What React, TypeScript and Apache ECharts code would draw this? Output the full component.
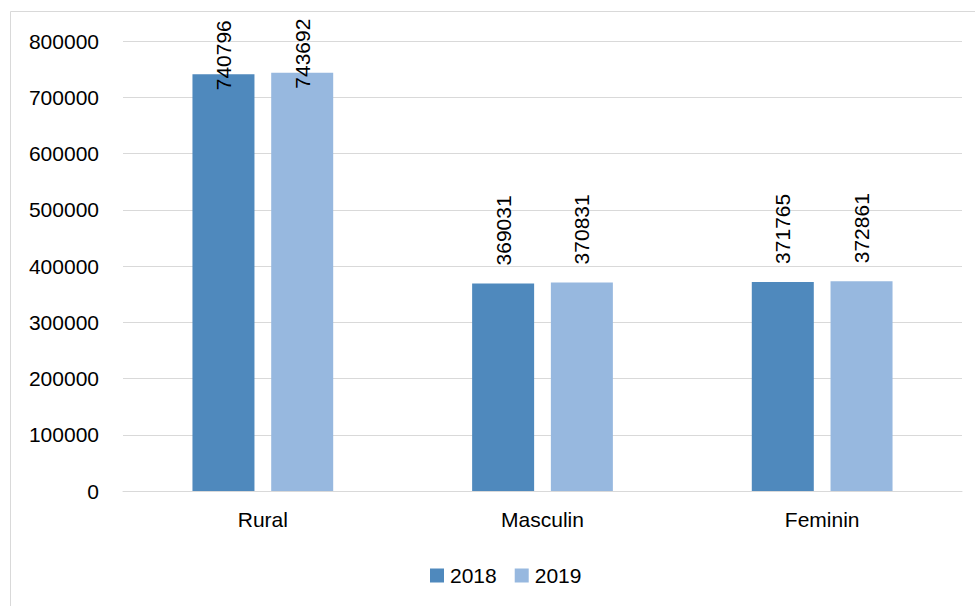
import React, { useEffect, useRef } from "react";
import * as echarts from "echarts";

const categories = ["Rural", "Masculin", "Feminin"];
const values2018 = [740796, 369031, 371765];
const values2019 = [743692, 370831, 372861];
const seriesNames = ["2018", "2019"];

const FONT = "Liberation Sans, Arial, sans-serif";

function withLabels(vals: number[]) {
  return vals.map((v, i) =>
    i === 0 ? { value: v, label: { distance: -16 } } : { value: v }
  );
}

export default function App() {
  const ref = useRef<HTMLDivElement>(null);
  useEffect(() => {
    if (!ref.current) return;
    const chart = echarts.init(ref.current, null, { renderer: "svg" });
    const label = {
      show: true,
      position: "top",
      rotate: 90,
      align: "left",
      verticalAlign: "middle",
      distance: 18,
      fontSize: 21,
      fontFamily: FONT,
      color: "#000",
    };
    chart.setOption({
      animation: false,
      backgroundColor: "#fff",
      textStyle: { fontFamily: FONT },
      graphic: [
        {
          type: "rect",
          shape: { x: 10.5, y: 11.5, width: 1000, height: 1000 },
          style: { fill: "none", stroke: "#d9d9d9", lineWidth: 1 },
          silent: true,
        },
      ],
      grid: { left: 123, right: 13, top: 41, bottom: 115, containLabel: false },
      legend: {
        data: seriesNames,
        top: 560,
        left: 425,
        itemWidth: 14,
        itemHeight: 14,
        itemGap: 18,
        icon: "rect",
        textStyle: { fontSize: 21, fontFamily: FONT, color: "#000", padding: [0, 0, 0, 1] },
      },
      xAxis: {
        type: "category",
        data: categories,
        axisLine: { lineStyle: { color: "#d9d9d9", width: 1 } },
        axisTick: { show: false },
        axisLabel: { fontSize: 21, fontFamily: FONT, color: "#000", margin: 18 },
      },
      yAxis: {
        type: "value",
        min: 0,
        max: 800000,
        interval: 100000,
        axisLine: { show: false },
        axisTick: { show: false },
        splitLine: { lineStyle: { color: "#d9d9d9", width: 1 } },
        axisLabel: {
          fontSize: 21,
          fontFamily: FONT,
          color: "#000",
          margin: 24,
          formatter: (v: number) => String(v),
        },
      },
      series: [
        {
          name: seriesNames[0],
          type: "bar",
          data: withLabels(values2018),
          barWidth: 62,
          barGap: "27%",
          itemStyle: { color: "#4F89BD" },
          label,
        },
        {
          name: seriesNames[1],
          type: "bar",
          data: withLabels(values2019),
          barWidth: 62,
          barGap: "27%",
          itemStyle: { color: "#97B8DF" },
          label,
        },
      ],
    });
    return () => chart.dispose();
  }, []);
  return (
    <div
      ref={ref}
      style={{ position: "fixed", left: 0, top: 0, width: 975, height: 606 }}
    />
  );
}
